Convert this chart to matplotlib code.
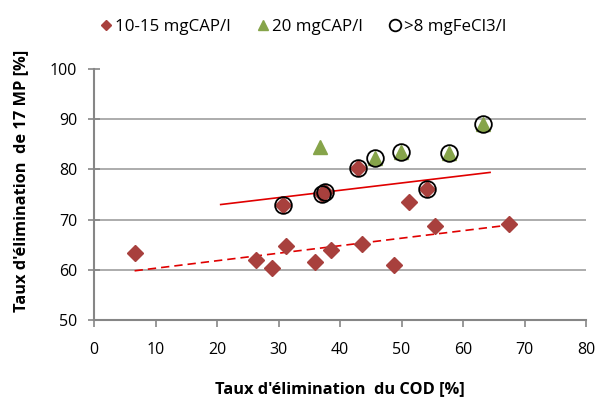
import numpy as np
import matplotlib.pyplot as plt

plt.rcParams['font.family'] = ['Open Sans', 'DejaVu Sans']

# 10-15 mgCAP/l (red diamonds)
cap_lo_x = [6.6, 26.4, 28.9, 31.2, 36.0, 38.5, 30.8, 37.0, 37.5, 43.6, 48.8, 51.3, 55.4, 67.4, 43.0, 54.1]
cap_lo_y = [63.3, 61.9, 60.3, 64.8, 61.6, 63.9, 73.0, 75.0, 75.4, 65.1, 60.9, 73.5, 68.8, 69.2, 80.2, 76.1]

# 20 mgCAP/l (green triangles)
cap_hi_x = [36.8, 45.7, 49.9, 57.7, 63.3]
cap_hi_y = [84.5, 82.3, 83.5, 83.3, 89.1]

# >8 mgFeCl3/l (open circles)
fecl_x = [30.8, 37.0, 37.5, 43.0, 45.7, 49.9, 54.1, 57.7, 63.3]
fecl_y = [73.0, 75.0, 75.4, 80.2, 82.3, 83.5, 76.1, 83.3, 89.1]

# trend lines (end points)
trend_solid_x = [20.6, 64.4]
trend_solid_y = [73.0, 79.4]
trend_dash_x = [6.6, 67.4]
trend_dash_y = [59.8, 68.9]

fig = plt.figure(figsize=(5.99, 4.01), dpi=100)
ax = fig.add_axes([94/599, 1-320/401, (586-94)/599, (320-69)/401])

ax.set_xlim(0, 80)
ax.set_ylim(50, 100)
ax.set_xticks(np.arange(0, 81, 10))
ax.set_yticks(np.arange(50, 101, 10))
for v in [60, 70, 80, 90]:
    ax.axhline(v, color='#a6a6a6', lw=1.3, zorder=0)

ax.plot(trend_solid_x, trend_solid_y, color='#e00000', lw=1.2, zorder=2)
ax.plot(trend_dash_x, trend_dash_y, color='#e00000', lw=1.2, ls=(0, (5, 3)), zorder=2)

ax.plot(cap_lo_x, cap_lo_y, ls='none', marker='D', ms=8, color='#a8403d',
        label='10-15 mgCAP/l', zorder=3)
ax.plot(cap_hi_x, cap_hi_y, ls='none', marker='^', ms=10.5, color='#86a44a',
        label='20 mgCAP/l', zorder=3)
ax.plot(fecl_x, fecl_y, ls='none', marker='o', ms=12, mfc='none', mec='black',
        mew=1.3, label='>8 mgFeCl3/l', zorder=4)

for s in ['top', 'right']:
    ax.spines[s].set_visible(False)
for s in ['left', 'bottom']:
    ax.spines[s].set_color('#868686')
    ax.spines[s].set_linewidth(1.5)
ax.tick_params(axis='x', direction='out', length=5, color='#868686', width=1.2,
               labelsize=11.5, pad=11)
ax.tick_params(axis='y', direction='inout', length=8, color='#868686', width=1.2,
               labelsize=11.5, pad=8)

ax.set_xlabel("Taux d'élimination  du COD [%]", fontsize=11.8, fontweight='bold')
ax.set_ylabel("Taux d'élimination  de 17 MP [%]", fontsize=11.8, fontweight='bold')
ax.xaxis.set_label_coords(0.5, -0.245)
ax.yaxis.set_label_coords(-0.133, 0.555)

fig.legend(loc='center', bbox_to_anchor=(0.504, 0.933), ncol=3, frameon=False,
           fontsize=12.2, handletextpad=0.05, columnspacing=1.4, markerscale=0.7,
           handlelength=1.0)

fig.savefig('out.png', dpi=100)
